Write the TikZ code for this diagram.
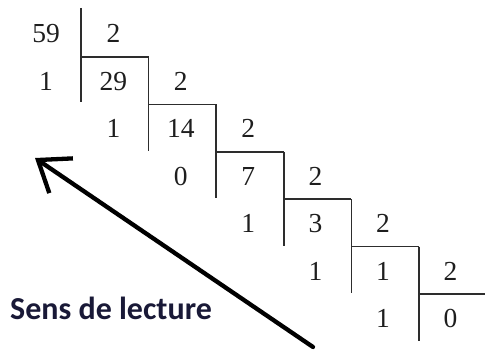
\documentclass[tikz,border=0pt]{standalone}
\usepackage{fontspec}
\setmainfont{Liberation Serif}
\newfontfamily\labelfont{Carlito}
\usetikzlibrary{arrows.meta}
\definecolor{gridcol}{RGB}{45,45,45}
\definecolor{numcol}{RGB}{30,30,30}
\definecolor{labcol}{RGB}{25,25,55}
\tikzset{
  gridline/.style={line width=1.7pt, draw=gridcol},
  num/.style={anchor=base, inner sep=0pt, font=\fontsize{27.5}{27.5}\selectfont, text=numcol},
  readarrow/.style={line width=4.3pt, draw=black, line cap=round,
    -{Straight Barb[length=28pt, width=42pt, line width=4.3pt]}},
  lab/.style={anchor=base west, inner sep=0pt, font=\labelfont\bfseries\fontsize{32}{32}\selectfont, text=labcol}
}
\begin{document}
\begin{tikzpicture}[x=1pt,y=-1pt]
\useasboundingbox (0,0) rectangle (485,352);
% grid
\draw[gridline] (81,8) -- (81,102);
\foreach \i in {0,...,5}{
  \pgfmathsetmacro{\xa}{81+67.6*\i}
  \pgfmathsetmacro{\xb}{min(81+67.6*(\i+1),486)}
  \pgfmathsetmacro{\yy}{57+47.4*\i}
  \draw[gridline] (\xa,\yy) -- (\xb,\yy);
  \ifnum\i<5
    \draw[gridline] (\xb,\yy) -- (\xb,\yy+94);
  \fi
}
% numbers
\foreach \t/\c/\r [count=\n] in {59/0/0, 2/1/0,
   1/0/1, 29/1/1, 2/2/1,
   1/1/2, 14/2/2, 2/3/2,
   0/2/3, 7/3/3, 2/4/3,
   1/3/4, 3/4/4, 2/5/4,
   1/4/5, 1/5/5, 2/6/5,
   1/5/6, 0/6/6}{
  \node[num] (n\n) at ({46+67.4*\c},{43+47.5*\r}) {\t};
}
% label and arrow
\node[lab] (sens) at (10,320) {Sens de lecture};
\coordinate (tail) at (313,347);
\coordinate (tip) at (35,158);
\draw[readarrow] (tail) -- (tip);
\end{tikzpicture}
\end{document}
